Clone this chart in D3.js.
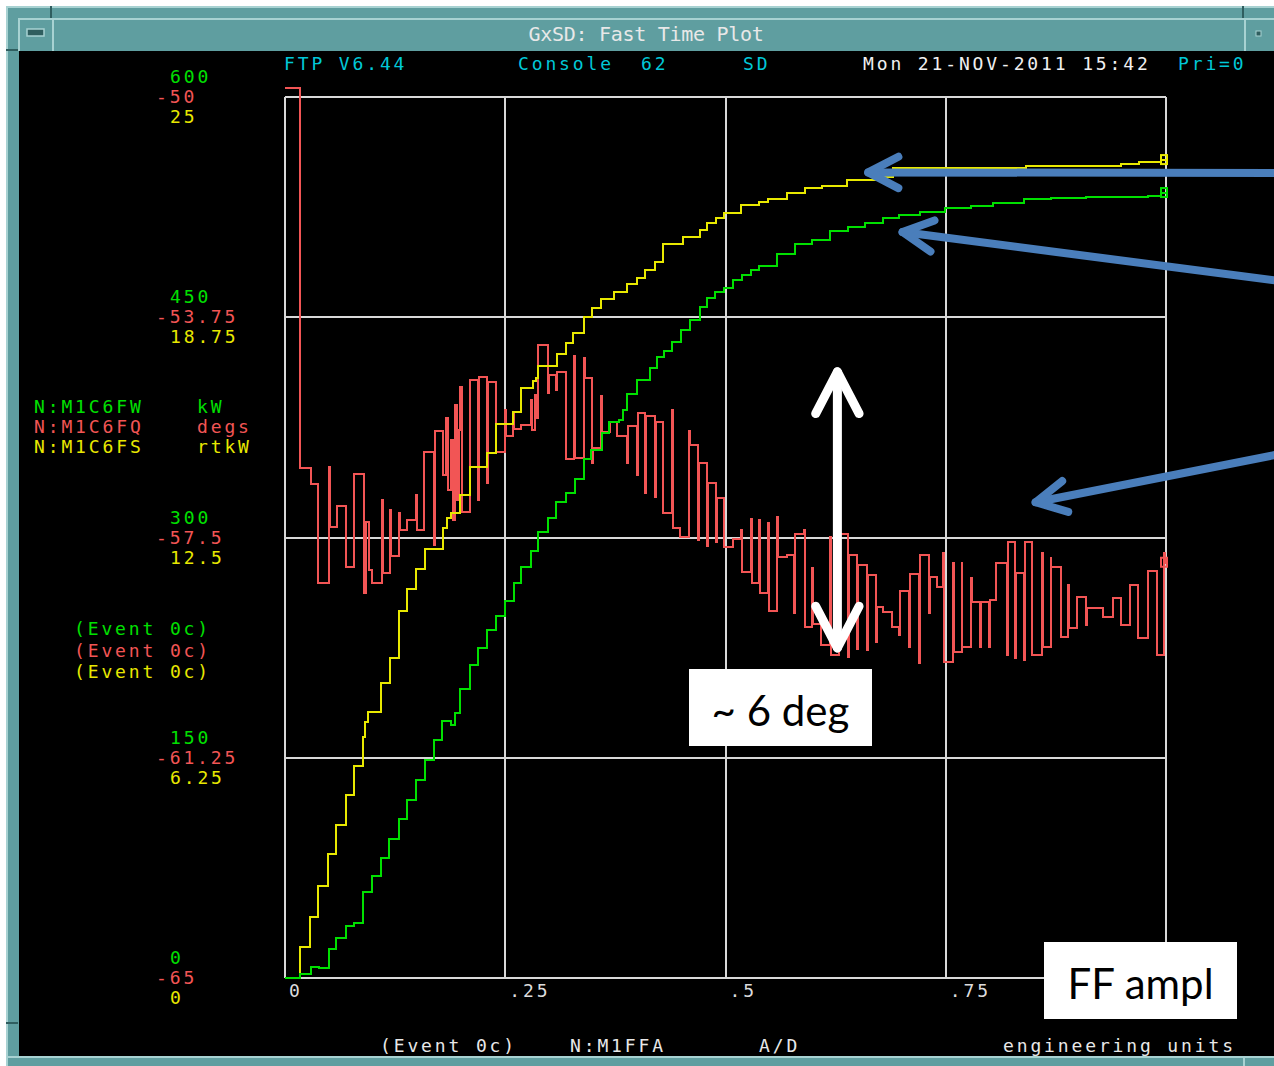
<!DOCTYPE html>
<html>
<head>
<meta charset="utf-8">
<title>GxSD: Fast Time Plot</title>
<script src="https://cdn.jsdelivr.net/npm/d3@7"></script>
<style>
  body { margin: 0; background: #fff; }
  svg { display: block; }
  .mono { font-family: "DejaVu Sans Mono", monospace; font-size: 18px; letter-spacing: 2.86px; }
  .note { font-family: Lato, "Open Sans", sans-serif; font-size: 42px; }
</style>
</head>
<body>
<div id="chart"></div>
<script>
// x is position in the sweep, 0..1
var xTicks = [0, 0.25, 0.5, 0.75, 1];
var xTickLabels = ["0", ".25", ".5", ".75"];
var kwTicks = [600, 450, 300, 150, 0];
var degTicks = [-50, -53.75, -57.5, -61.25, -65];
var rtkwTicks = [25, 18.75, 12.5, 6.25, 0];

var channels = ["N:M1C6FW", "N:M1C6FQ", "N:M1C6FS"];
var units = ["kW", "degs", "rtkW"];

// N:M1C6FW  [t, kW]
var greenTrace = [[0,0],[.017,3],[.030,7.5],[.039,7],[.050,19.7],[.058,27.2],[.069,35.4],[.078,37.5],[.089,58.6],[.099,69.5],
  [.109,81.7],[.118,94.7],[.129,108.3],[.138,121.2],[.149,134.8],[.159,148.5],[.169,162.1],[.178,175],[.188,172.3],[.193,180.5],
  [.199,196.8],[.210,213.2],[.219,224.7],[.229,237],[.240,246.5],[.250,256.7],[.260,269],[.268,279.9],[.279,290.8],[.287,303.7],
  [.299,313.3],[.308,324.2],[.319,330.3],[.329,339.8],[.339,353.4],[.347,359.6],[.360,371.1],[.368,378.6],[.379,380],[.384,386.8],
  [.388,397.7],[.400,407.2],[.414,415.4],[.422,422.9],[.430,427],[.439,433.1],[.449,441.3],[.460,448.1],[.471,456.9],[.479,463.1],
  [.488,467.2],[.498,469.9],[.509,475.3],[.519,478.7],[.529,482.2],[.538,484.9],[.558,493.1],[.579,499.9],[.598,502.6],[.619,508.7],
  [.639,511.4],[.658,514.2],[.679,517.6],[.697,519.6],[.721,521.7],[.749,524.4],[.779,525.7],[.804,527.8],[.839,530.5],[.869,531.2],
  [.909,531.9],[.980,532.5],[.994,534.6],[1,534.6]];

// N:M1C6FQ  [t, degs]
var redTrace = [[0,-49.85],[.017,-56.32],[.030,-56.59],[.037,-58.27],[.050,-56.30],[.051,-57.32],[.059,-56.96],[.069,-58.00],[.078,-56.42],
  [.090,-58.44],[.092,-57.24],[.095,-58.05],[.099,-58.27],[.110,-56.86],[.111,-58.10],[.119,-57.03],[.120,-57.81],[.129,-57.08],[.131,-57.37],
  [.138,-57.20],[.149,-56.78],[.150,-57.37],[.158,-56.04],[.169,-57.63],[.170,-55.69],[.179,-56.44],[.183,-55.47],[.185,-56.69],[.188,-55.84],
  [.191,-57.20],[.193,-55.24],[.195,-56.86],[.198,-55.67],[.199,-54.94],[.201,-57.07],[.210,-54.82],[.219,-56.86],[.220,-54.77],[.229,-56.57],
  [.230,-54.85],[.240,-56.04],[.250,-55.33],[.251,-55.77],[.259,-55.36],[.260,-55.65],[.268,-55.58],[.279,-55.16],[.280,-55.67],[.284,-55.07],
  [.285,-55.47],[.287,-54.22],[.299,-55.04],[.300,-54.73],[.308,-54.99],[.309,-54.68],[.319,-56.16],[.328,-54.41],[.329,-56.15],[.339,-54.44],
  [.340,-54.78],[.348,-56.23],[.350,-55.98],[.359,-55.09],[.360,-55.70],[.369,-55.53],[.377,-55.77],[.388,-56.23],[.389,-55.60],[.400,-56.44],
  [.401,-55.38],[.409,-56.74],[.410,-55.43],[.420,-56.81],[.421,-55.53],[.429,-57.08],[.439,-55.33],[.440,-57.34],[.448,-57.49],[.459,-55.69],
  [.460,-55.93],[.469,-57.54],[.470,-56.23],[.479,-57.64],[.480,-56.57],[.489,-57.58],[.490,-56.83],[.498,-57.66],[.509,-57.53],[.518,-57.37],
  [.519,-58.09],[.529,-57.18],[.530,-58.27],[.538,-57.20],[.539,-58.44],[.548,-57.25],[.549,-58.75],[.558,-57.15],[.560,-57.83],[.570,-57.80],
  [.578,-58.79],[.579,-57.44],[.589,-57.37],[.590,-59.02],[.598,-58.02],[.599,-58.97],[.608,-59.33],[.619,-57.49],[.620,-59.50],[.629,-57.44],
  [.639,-59.53],[.640,-57.80],[.649,-59.40],[.650,-57.97],[.661,-59.42],[.662,-58.14],[.671,-59.28],[.672,-58.68],[.679,-58.77],[.689,-59.02],
  [.697,-59.16],[.698,-58.41],[.708,-59.36],[.709,-58.12],[.720,-59.64],[.721,-57.80],[.731,-58.79],[.732,-58.17],[.740,-58.34],[.747,-57.76],
  [.748,-59.62],[.758,-57.93],[.759,-59.45],[.768,-57.93],[.769,-59.36],[.779,-58.19],[.780,-58.60],[.789,-59.36],[.790,-58.60],[.799,-59.36],
  [.800,-58.56],[.807,-57.93],[.820,-59.50],[.821,-57.58],[.829,-59.55],[.830,-58.10],[.839,-59.59],[.840,-57.58],[.848,-59.50],[.859,-57.76],
  [.860,-59.36],[.869,-57.85],[.870,-58.00],[.881,-59.19],[.889,-58.31],[.890,-59.04],[.899,-58.51],[.909,-58.99],[.910,-58.70],[.928,-58.85],
  [.940,-58.53],[.949,-58.99],[.959,-58.31],[.968,-59.21],[.980,-58.07],[.990,-59.50],[.998,-57.76],[.999,-57.93],[1,-57.93]];

// N:M1C6FS  [t, rtkW]
var yellowTrace = [[0,0],[.017,.88],[.028,1.73],[.037,2.61],[.049,3.52],[.058,4.34],[.069,5.19],[.078,6.02],[.089,6.84],[.091,7.26],
  [.094,7.55],[.109,8.37],[.119,9.08],[.129,10.41],[.138,11.04],[.149,11.61],[.159,12.17],[.179,12.77],[.184,13.05],[.188,13.2],
  [.199,13.71],[.210,14.5],[.229,14.9],[.240,15.72],[.259,16.06],[.268,16.74],[.281,16.94],[.285,17.03],[.287,17.37],[.309,17.71],
  [.319,18.02],[.327,18.3],[.339,18.76],[.348,19.01],[.359,19.27],[.373,19.47],[.388,19.69],[.400,19.86],[.409,20.09],[.420,20.32],
  [.429,20.83],[.452,21.03],[.471,21.23],[.479,21.42],[.489,21.57],[.498,21.71],[.518,21.94],[.538,22.02],[.548,22.11],[.570,22.28],
  [.590,22.42],[.610,22.47],[.638,22.65],[.671,22.73],[.690,22.98],[.841,23.04],[.949,23.10],[.969,23.16],[.994,23.21],[1,23.21]];

var width = 1274, height = 1066;
var box = {left: 285, right: 1166, top: 97, bottom: 978};
var green = "#00e000", red = "#f25555", yellow = "#e8e800", cyan = "#00c8d8",
    gridColor = "#d8d8d8", teal = "#5f9ea0", light = "#a8d2d2", dark = "#2f5e5f";

var svg = d3.select("#chart").append("svg")
    .attr("width", width)
    .attr("height", height);

var x = d3.scaleLinear().domain([0, 1]).range([box.left, box.right]);
var yKw = d3.scaleLinear().domain([0, 600]).range([box.bottom, box.top]);
var yDeg = d3.scaleLinear().domain([-65, -50]).range([box.bottom, box.top]);
var yRt = d3.scaleLinear().domain([0, 25]).range([box.bottom, box.top]);

// window frame
function rect(x0, y0, w, h, fill) {
    return svg.append("rect").attr("x", x0).attr("y", y0).attr("width", w).attr("height", h).attr("fill", fill);
}
rect(0, 0, width, height, "#fff");
rect(6, 6, width - 6, height - 6, teal);
rect(6, 6, width - 6, 2, light);
rect(6, 6, 2, height - 6, light);
rect(18, 18, width - 18, 2, light);
rect(18, 18, 2, 33, light);
rect(50, 6, 2, 12, dark);
rect(6, 49, 12, 2, dark);
rect(52, 18, 2, 33, light);
rect(1244, 18, 2, 33, light);
rect(1242, 6, 2, 12, dark);
svg.append("rect").attr("x", 27).attr("y", 29).attr("width", 17).attr("height", 7)
    .attr("fill", dark).attr("stroke", light).attr("stroke-width", 1.5);
svg.append("rect").attr("x", 1256).attr("y", 31).attr("width", 5).attr("height", 5)
    .attr("fill", dark).attr("stroke", light).attr("stroke-width", 1);
rect(19, 51, width - 19, 1005, "#000");
rect(6, 1056, width - 6, 2, light);
rect(1243, 1056, 2, 10, light);
rect(6, 1022, 12, 2, dark);

svg.append("text")
    .attr("x", 646).attr("y", 41)
    .attr("text-anchor", "middle")
    .attr("fill", "#e8e8e8")
    .style("font-family", "'DejaVu Sans Mono', monospace")
    .style("font-size", "20px")
    .style("letter-spacing", "-0.3px")
    .text("GxSD: Fast Time Plot");

function label(str, x0, y0, color) {
    return svg.append("text").attr("class", "mono")
        .attr("x", x0).attr("y", y0).attr("fill", color).text(str);
}

// header line
label("FTP V6.44", 284, 70, cyan);
label("Console", 518, 70, cyan);
label("62", 641, 70, cyan);
label("SD", 743, 70, cyan);
label("Mon 21-NOV-2011 15:42", 863, 70, "#f0f0f0");
label("Pri=0", 1178, 70, cyan);

// grid
var grid = svg.append("g").attr("stroke", gridColor).attr("stroke-width", 2).attr("shape-rendering", "crispEdges");
grid.selectAll("line.v").data(xTicks).enter().append("line")
    .attr("x1", function(d) { return x(d); }).attr("x2", function(d) { return x(d); })
    .attr("y1", box.top).attr("y2", box.bottom);
grid.selectAll("line.h").data(kwTicks).enter().append("line")
    .attr("y1", function(d) { return yKw(d); }).attr("y2", function(d) { return yKw(d); })
    .attr("x1", box.left).attr("x2", box.right);

// three stacked scales on the left
kwTicks.forEach(function(v, i) {
    var gy = yKw(v);
    label(String(v), 170, gy - 14, green);
    label(String(degTicks[i]), 156, gy + 6, red);
    label(String(rtkwTicks[i]), 170, gy + 26, yellow);
});

// channel legend
var chColors = [green, red, yellow];
channels.forEach(function(c, i) {
    label(c, 34, 413 + i * 20, chColors[i]);
    label(units[i], 197, 413 + i * 20, chColors[i]);
    label("(Event 0c)", 74, 635 + i * 21.5, chColors[i]);
});

// x tick labels
xTickLabels.forEach(function(s, i) {
    label(s, x(xTicks[i]) + 4, 997, "#dcdcdc");
});

// bottom status line
label("(Event 0c)", 380, 1052, "#e8e8e8");
label("N:M1FFA", 570, 1052, "#e8e8e8");
label("A/D", 759, 1052, "#e8e8e8");
label("engineering units", 1003, 1052, "#e8e8e8");

// traces
function trace(data, yScale, color) {
    var line = d3.line()
        .x(function(d) { return x(d[0]); })
        .y(function(d) { return yScale(d[1]); })
        .curve(d3.curveStepAfter);
    svg.append("path")
        .attr("d", line(data))
        .attr("fill", "none")
        .attr("stroke", color)
        .attr("stroke-width", 2)
        .attr("shape-rendering", "crispEdges");
    var last = data[data.length - 1];
    svg.append("rect")
        .attr("x", x(last[0]) - 5).attr("y", yScale(last[1]) - 5)
        .attr("width", 6).attr("height", 9)
        .attr("fill", "none").attr("stroke", color).attr("stroke-width", 2);
}
trace(redTrace, yDeg, red);
trace(yellowTrace, yRt, yellow);
trace(greenTrace, yKw, green);

// annotations added on the slide
function head(g, fx, fy, tx, ty, len, spread) {
    var a = Math.atan2(fy - ty, fx - tx);
    var p = d3.path();
    p.moveTo(tx + len * Math.cos(a + spread), ty + len * Math.sin(a + spread));
    p.lineTo(tx, ty);
    p.lineTo(tx + len * Math.cos(a - spread), ty + len * Math.sin(a - spread));
    g.append("path").attr("d", p.toString());
}
function arrow(x1, y1, x2, y2, color, w, len, both) {
    var g = svg.append("g")
        .attr("fill", "none").attr("stroke", color).attr("stroke-width", w)
        .attr("stroke-linecap", "round").attr("stroke-linejoin", "round");
    g.append("line").attr("x1", x1).attr("y1", y1).attr("x2", x2).attr("y2", y2);
    head(g, x1, y1, x2, y2, len, 0.48);
    if (both) head(g, x2, y2, x1, y1, len, 0.48);
}
var blue = "#4a7ebb";
arrow(1280, 173, x(0.662), yRt(22.86), blue, 8, 34);
arrow(1280, 281, x(0.701), yKw(508), blue, 8, 34);
arrow(1280, 454, x(0.852), yDeg(-56.9), blue, 8, 34);
arrow(x(0.627), yDeg(-59.38), x(0.627), yDeg(-54.68), "#fff", 9, 47, true);

function noteBox(x0, y0, w, h, str) {
    rect(x0, y0, w, h, "#fff");
    svg.append("text").attr("class", "note")
        .attr("x", x0 + w / 2).attr("y", y0 + h - 20)
        .attr("text-anchor", "middle").attr("fill", "#000")
        .text(str);
}
noteBox(689, 669, 183, 77, "~ 6 deg");
noteBox(1044, 942, 193, 77, "FF ampl");
</script>
</body>
</html>
